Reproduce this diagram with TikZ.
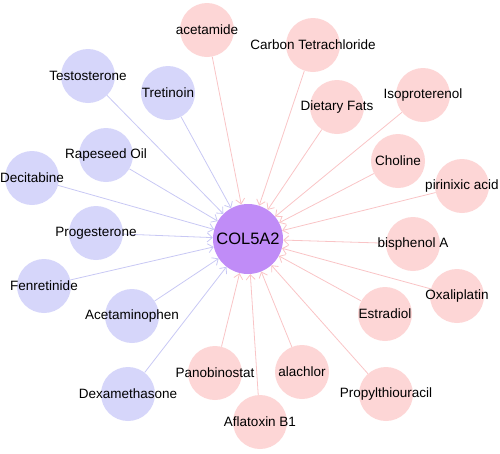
\documentclass[tikz,border=0pt]{standalone}
\usepackage{fontspec}
\setmainfont{Liberation Sans}
\usepackage{tikz}
\usetikzlibrary{arrows.meta,backgrounds}
\definecolor{druglue}{HTML}{D6D6FA}
\definecolor{chempink}{HTML}{FDD6D6}
\definecolor{genepurple}{HTML}{C08CF7}
\definecolor{bluelink}{HTML}{C8C8F4}
\definecolor{pinklink}{HTML}{F9C4C6}
\tikzset{
  drugnode/.style={circle,fill=druglue,minimum size=54pt,inner sep=0pt,
    label={[font=\fontsize{13.5}{16}\selectfont]center:#1}},
  chemnode/.style={circle,fill=chempink,minimum size=54pt,inner sep=0pt,
    label={[font=\fontsize{13.5}{16}\selectfont]center:#1}},
  genenode/.style={circle,fill=genepurple,minimum size=70pt,inner sep=0pt,
    font=\fontsize{16.5}{19}\selectfont},
  bluearrow/.style={-{Straight Barb[length=5pt,width=9pt]},draw=bluelink,line width=0.8pt},
  pinkarrow/.style={-{Straight Barb[length=5pt,width=9pt]},draw=pinklink,line width=0.8pt}
}
\begin{document}
\begin{tikzpicture}[x=1pt,y=-1pt]
  \useasboundingbox (0,0) rectangle (500,453);
  \node[genenode] (col) at (248,239) {COL5A2};
  % left group
  \node[drugnode=Testosterone] (testosterone) at (88,76) {};
  \node[drugnode=Tretinoin] (tretinoin) at (168,93) {};
  \node[drugnode=Rapeseed Oil] (rapeseed) at (106,155) {};
  \node[drugnode=Decitabine] (decitabine) at (32,178) {};
  \node[drugnode=Progesterone] (progesterone) at (96,233) {};
  \node[drugnode=Fenretinide] (fenretinide) at (44,286) {};
  \node[drugnode=Acetaminophen] (acetaminophen) at (132,316) {};
  \node[drugnode=Dexamethasone] (dexamethasone) at (128,394) {};
  % right group
  \node[chemnode=acetamide] (acetamide) at (207,30) {};
  \node[chemnode=Carbon Tetrachloride] (carbontet) at (313,45) {};
  \node[chemnode=Dietary Fats] (dietary) at (337,107) {};
  \node[chemnode=Isoproterenol] (isoproterenol) at (423,95) {};
  \node[chemnode=Choline] (choline) at (398,161) {};
  \node[chemnode=pirinixic acid] (pirinixic) at (462,186) {};
  \node[chemnode=bisphenol A] (bisphenol) at (413,244) {};
  \node[chemnode=Oxaliplatin] (oxaliplatin) at (457,296) {};
  \node[chemnode=Estradiol] (estradiol) at (385,314) {};
  \node[chemnode=Propylthiouracil] (propylthiouracil) at (386,394) {};
  \node[chemnode=alachlor] (alachlor) at (302,372) {};
  \node[chemnode=Aflatoxin B1] (aflatoxin) at (260,422) {};
  \node[chemnode=Panobinostat] (panobinostat) at (215,373) {};
  \begin{scope}[on background layer]
    \foreach \n in {testosterone,tretinoin,rapeseed,decitabine,progesterone,
        fenretinide,acetaminophen,dexamethasone}
      \draw[bluearrow] (\n) -- (col);
    \foreach \n in {acetamide,carbontet,dietary,isoproterenol,choline,pirinixic,
        bisphenol,oxaliplatin,estradiol,propylthiouracil,alachlor,aflatoxin,panobinostat}
      \draw[pinkarrow] (\n) -- (col);
  \end{scope}
\end{tikzpicture}
\end{document}
